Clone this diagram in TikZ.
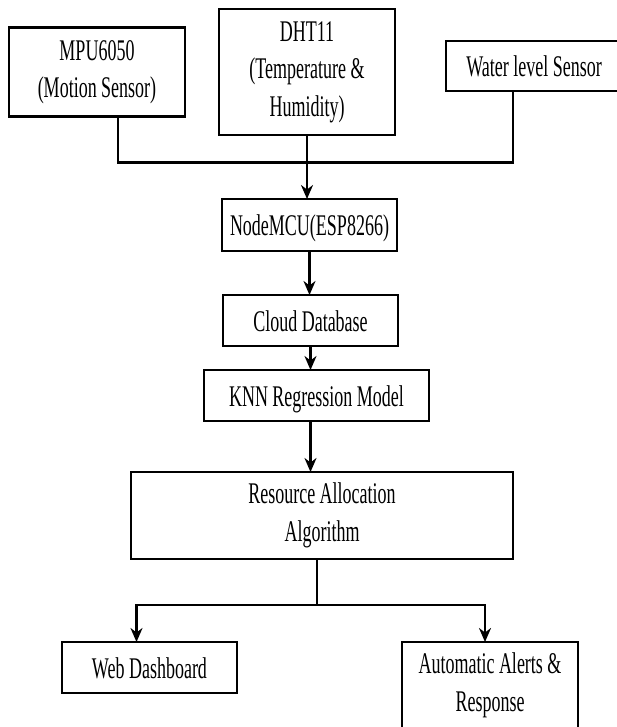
\documentclass[tikz,border=0pt]{standalone}
\usepackage{fontspec}
\setmainfont{Liberation Serif}[FakeStretch=0.6]
\usepackage{tikz}
\usetikzlibrary{arrows.meta, positioning}

\begin{document}
\begin{tikzpicture}[
    x=1pt, y=1pt,
    node distance=44pt and 34pt,
    every node/.style={font=\fontsize{30}{37.5}\selectfont},
    block/.style={rectangle, draw, line width=2.8pt, inner sep=0pt, outer sep=0pt, minimum width=#1, minimum height=51pt, align=center, execute at begin node={\rule[-6pt]{0pt}{34pt}}},
    block/.default=175pt,
    arrow/.style={-{Stealth[length=14pt, width=12pt]}, line width=2.8pt},
    line/.style={line width=2.8pt}
]

\useasboundingbox (0,0) rectangle (616,-727);

% Sensor row
\node[block=176pt, minimum height=126pt] (dht) at (307,-72) {DHT11\\(Temperature \&\\Humidity)};
\node[block=176pt, minimum height=89pt, left=34pt of dht] (mpu) {MPU6050\\(Motion Sensor)};
\node[block=176pt, minimum height=50pt, right=51pt of dht, yshift=6pt] (water) {Water level Sensor};

% Controller and processing chain
\node[block, minimum height=52pt, below=64pt of dht, xshift=2.5pt] (mcu) {NodeMCU(ESP8266)};
\node[block, below=44pt of mcu, xshift=1pt] (cloud) {Cloud Database};
\node[block=225pt, below=24pt of cloud, xshift=6pt] (knn) {KNN Regression Model};
\node[block=382pt, minimum height=87pt, below=51pt of knn, xshift=5.5pt] (res) {Resource Allocation\\Algorithm};

% Outputs
\node[block, below=83pt of res, xshift=-172.5pt] (web) {Web Dashboard};
\node[block=176pt, minimum height=87pt, below=83pt of res, xshift=168pt] (alerts) {Automatic Alerts \&\\Response};

% Connectors
\draw[line] ([xshift=21pt]mpu.south) -- ++(0,-46) -| ([xshift=-21pt]water.south);
\draw[arrow] (dht.south) -- (dht.south |- mcu.north);
\draw[arrow] (mcu.south) -- (mcu.south |- cloud.north);
\draw[arrow] (cloud.south) -- (cloud.south |- knn.north);
\draw[arrow] (knn.south -| cloud.south) -- (cloud.south |- res.north);
\draw[line] ([xshift=-5pt]res.south) -- ++(0,-46) coordinate (split);
\draw[arrow] (split) -| ([xshift=-13pt]web.north);
\draw[arrow] (split) -| ([xshift=-5pt]alerts.north);

\end{tikzpicture}
\end{document}
